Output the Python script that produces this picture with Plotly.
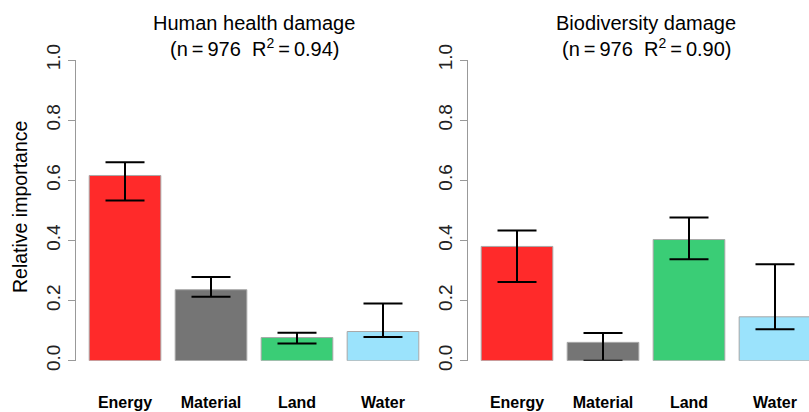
import plotly.graph_objects as go

categories = ["Energy", "Material", "Land", "Water"]
colors = ["#FF2A2A", "#757575", "#3ACD76", "#9BE3FC"]

hh_values = [0.616, 0.236, 0.077, 0.097]
hh_upper = [0.660, 0.278, 0.093, 0.190]
hh_lower = [0.533, 0.213, 0.057, 0.079]

bio_values = [0.380, 0.061, 0.403, 0.146]
bio_upper = [0.433, 0.092, 0.476, 0.321]
bio_lower = [0.262, 0.000, 0.337, 0.105]

x_pos = [0.7, 1.9, 3.1, 4.3]
ytick_vals = [0.0, 0.2, 0.4, 0.6, 0.8, 1.0]
ytick_text = ["0.0", "0.2", "0.4", "0.6", "0.8", "1.0"]

FONT = "Liberation Sans, Arial, Helvetica, sans-serif"
W, H = 809, 412

fig = go.Figure()


def add_panel(values, upper, lower, xa, ya):
    fig.add_trace(go.Bar(
        x=x_pos, y=values, width=1.0,
        marker=dict(color=colors, line=dict(color="#A8A8A8", width=1)),
        error_y=dict(type="data", symmetric=False,
                     array=[u - v for u, v in zip(upper, values)],
                     arrayminus=[v - l for v, l in zip(values, lower)],
                     color="black", thickness=2, width=19.5),
        xaxis=xa, yaxis=ya, showlegend=False, hoverinfo="skip",
    ))


add_panel(hh_values, hh_upper, hh_lower, "x", "y")
add_panel(bio_values, bio_upper, bio_lower, "x2", "y2")

px_per_unit = 356 / 4.968
y_dom = [(H - 360.7) / H, (H - 60) / H]

xcommon = dict(showgrid=False, zeroline=False, showline=False, ticks="",
               tickvals=x_pos, ticktext=["<b>%s</b>" % c for c in categories],
               tickfont=dict(family=FONT, size=16, color="black"),
               ticklabelstandoff=30, automargin=False)
ycommon = dict(range=[0, 1], domain=y_dom, showgrid=False, zeroline=False,
               showline=True, linecolor="#999999", linewidth=1,
               ticks="outside", ticklen=7, tickcolor="#999999", tickwidth=1,
               tickvals=ytick_vals, ticktext=ytick_text, tickangle=-90,
               automargin=False,
               tickfont=dict(family=FONT, size=19, color="#222222"))

fig.update_layout(
    width=W, height=H,
    margin=dict(l=0, r=0, t=0, b=0, autoexpand=False),
    paper_bgcolor="white", plot_bgcolor="white",
    bargap=0,
    xaxis=dict(domain=[76 / W, 432 / W], range=[0.016, 4.984], anchor="y", **xcommon),
    xaxis2=dict(domain=[468 / W, 1.0], range=[0.016, 0.016 + (W - 468) / px_per_unit],
                anchor="y2", **xcommon),
    yaxis=dict(anchor="x", **ycommon),
    yaxis2=dict(anchor="x2", **ycommon),
)

titles = [("Human health damage", "(n\u2009=\u2009976\u00a0\u00a0R<sup>2</sup>\u2009=\u20090.94)", 254),
          ("Biodiversity damage", "(n\u2009=\u2009976\u00a0\u00a0R<sup>2</sup>\u2009=\u20090.90)", 646)]
for t1, t2, cx in titles:
    fig.add_annotation(text=t1, x=cx / W, y=1 - 23 / H, xref="paper", yref="paper",
                       showarrow=False, xanchor="center", yanchor="middle",
                       font=dict(family=FONT, size=20, color="black"))
    fig.add_annotation(text=t2, x=cx / W, y=1 - 47 / H, xref="paper", yref="paper",
                       showarrow=False, xanchor="center", yanchor="middle",
                       font=dict(family=FONT, size=20, color="black"))

fig.add_annotation(text="Relative importance", x=20 / W, y=1 - 207 / H,
                   xref="paper", yref="paper", showarrow=False, textangle=-90,
                   xanchor="center", yanchor="middle",
                   font=dict(family=FONT, size=19.5, color="black"))

fig.write_html("out.html",
               config={"displayModeBar": False, "staticPlot": True},
               post_script="document.body.style.margin='0';document.body.style.overflow='hidden';")
